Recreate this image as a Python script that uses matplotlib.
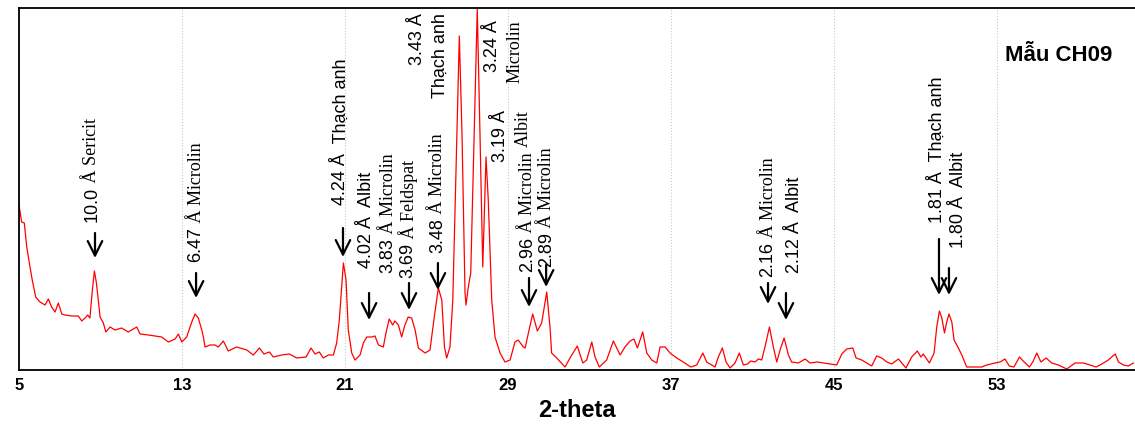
import matplotlib
matplotlib.use("Agg")
import matplotlib.pyplot as plt

# XRD pattern (2-theta, relative intensity)
two_theta = [5.0, 5.13, 5.26, 5.38, 5.54, 5.65, 5.82, 6.03, 6.28, 6.44, 6.6, 6.77, 6.93, 7.1, 7.26, 7.59,
             7.91, 8.08, 8.24, 8.37, 8.48, 8.6, 8.7, 8.8, 8.98, 9.14, 9.26, 9.47, 9.71, 10.04, 10.36, 10.78,
             10.94, 11.35, 11.67, 12.0, 12.33, 12.66, 12.82, 12.99, 13.23, 13.48, 13.64, 13.8, 13.97, 14.05,
             14.13, 14.37, 14.62, 14.78, 15.03, 15.27, 15.68, 16.18, 16.5, 16.8, 17.02, 17.29, 17.48, 17.89,
             18.27, 18.63, 19.09, 19.33, 19.53, 19.74, 19.93, 20.18, 20.43, 20.59, 20.72, 20.92, 21.05, 21.16,
             21.33, 21.49, 21.74, 21.9, 22.07, 22.31, 22.47, 22.64, 22.88, 23.01, 23.17, 23.34, 23.45, 23.62,
             23.78, 23.94, 24.1, 24.27, 24.44, 24.6, 24.93, 25.17, 25.38, 25.58, 25.75, 25.88, 25.99, 26.15,
             26.29, 26.45, 26.61, 26.74, 26.89, 26.94, 27.05, 27.17, 27.3, 27.49, 27.63, 27.76, 27.92, 28.03,
             28.2, 28.36, 28.61, 28.85, 29.1, 29.34, 29.5, 29.75, 29.84, 30.0, 30.21, 30.44, 30.65, 30.9,
             31.06, 31.14, 31.39, 31.8, 32.04, 32.4, 32.67, 32.86, 33.11, 33.27, 33.48, 33.84, 34.17, 34.5,
             34.74, 34.99, 35.18, 35.35, 35.61, 35.81, 36.05, 36.3, 36.46, 36.71, 36.95, 37.28, 37.6, 37.97,
             38.26, 38.56, 38.75, 39.0, 39.16, 39.32, 39.52, 39.7, 39.9, 40.14, 40.35, 40.55, 40.75, 40.91,
             41.12, 41.29, 41.45, 41.61, 41.83, 42.02, 42.19, 42.35, 42.55, 42.76, 42.92, 43.25, 43.58, 43.82,
             44.18, 44.48, 44.81, 45.13, 45.38, 45.62, 45.92, 46.08, 46.36, 46.6, 46.85, 47.09, 47.34, 47.59,
             47.83, 48.16, 48.53, 48.81, 49.09, 49.26, 49.38, 49.68, 49.91, 50.04, 50.17, 50.29, 50.42, 50.53,
             50.64, 50.78, 50.89, 51.1, 51.27, 51.51, 51.84, 52.25, 52.49, 52.9, 53.15, 53.39, 53.6, 53.83,
             54.1, 54.33, 54.59, 54.78, 54.95, 55.15, 55.41, 55.68, 56.01, 56.42, 56.83, 57.24, 57.56, 57.86,
             58.14, 58.46, 58.68, 58.8, 58.96, 59.2, 59.44, 59.69]
intensity = [165, 148, 147, 123, 103, 90, 73, 68, 65, 71, 63, 58, 67, 56, 55, 54,
             54, 49, 52, 55, 52, 80, 99, 87, 53, 47, 38, 43, 40, 42, 38, 43,
             36, 35, 34, 33, 28, 31, 36, 28, 33, 48, 56, 52, 40, 33,
             23, 25, 25, 23, 29, 19, 23, 20, 15, 22, 16, 18, 13, 15,
             16, 12, 13, 22, 16, 18, 12, 15, 15, 27, 50, 107, 90, 40,
             17, 10, 15, 27, 33, 33, 34, 25, 23, 37, 51, 45, 49, 45,
             33, 45, 53, 52, 40, 22, 17, 20, 53, 82, 70, 23, 12, 23,
             70, 203, 334, 237, 77, 65, 83, 97, 203, 361, 230, 103, 213, 170,
             70, 33, 17, 8, 10, 28, 30, 23, 22, 37, 56, 39, 47, 78,
             43, 17, 12, 3, 12, 24, 7, 10, 28, 13, 3, 10, 29, 15,
             23, 29, 31, 22, 38, 17, 10, 7, 23, 23, 17, 12, 8, 3,
             5, 17, 8, 5, 3, 13, 22, 8, 2, 7, 17, 5, 6, 9,
             8, 11, 10, 23, 43, 23, 8, 20, 32, 15, 8, 7, 11, 7,
             8, 7, 6, 5, 16, 21, 22, 12, 10, 7, 4, 14, 12, 8,
             6, 11, 2, 13, 19, 13, 16, 7, 17, 43, 59, 52, 37, 48,
             56, 48, 30, 22, 15, 3, 3, 3, 5, 7, 8, 11, 4, 3,
             13, 8, 3, 9, 17, 8, 12, 7, 5, 1, 7, 7, 5, 3,
             6, 10, 14, 16, 8, 5, 4, 7]

# labels that start just above an arrow (number part in sans, mineral part)
lbl_num = ["10.0", "6.47", "4.24 Å", "4.02 Å", "3.83", "3.69", "3.48", "2.96", "2.89", "2.16", "2.12 Å", "1.81 Å", "1.80 Å"]
lbl_rest = [" Å Sericit", " Å Microlin", "  Thạch anh", "  Albit", " Å Microlin", " Å Feldspat", " Å Microlin",
            " Å Microlin", " Å Microlin", " Å Microlin", "  Albit", "  Thạch anh", "  Albit"]
lbl_serif = [True, True, False, False, True, True, True, True, True, True, False, False, False]
lbl_x = [8.58, 13.69, 20.8, 22.03, 23.11, 24.09, 25.56, 29.98, 30.91, 41.76, 43.04, 50.06, 51.09]
lbl_y = [148, 108, 165, 102, 97, 92, 117, 98, 103, 93, 97, 147, 122]

# labels hanging from the top
top_text = ["3.43 Å", "Thạch anh", "3.24 Å", "Microlin", "3.19 Å", "Albit"]
top_serif = [False, False, False, True, False, True]
top_x = [24.58, 25.66, 28.26, 29.34, 28.61, 29.74]
top_y = [357, 357, 350, 350, 260, 260]

# arrows
arrow_x = [8.73, 13.69, 20.9, 22.18, 24.14, 25.56, 30.03, 30.87, 41.76, 42.64, 50.15, 50.64]
arrow_tail = [137, 97, 142, 77, 87, 107, 92, 105, 87, 77, 131, 102]
arrow_tip = [112, 72, 113, 50, 60, 80, 63, 83, 66, 50, 75, 75]

sans = ["Liberation Sans", "DejaVu Sans"]
serif = ["Liberation Serif", "DejaVu Serif"]

fig = plt.figure(figsize=(11.35, 4.25), dpi=100)
ax = fig.add_axes([19 / 1135, 55 / 425, 1116 / 1135, 362 / 425])

ax.plot(two_theta, intensity, color="red", lw=0.9)

ax.set_xlim(5, 59.77)
ax.set_ylim(0, 362)
ax.set_xticks([5, 13, 21, 29, 37, 45, 53])
ax.set_yticks([])
ax.tick_params(axis="x", length=0, pad=6)
for lab in ax.get_xticklabels():
    lab.set_family(sans)
    lab.set_fontweight("bold")
    lab.set_fontsize(12)
ax.grid(axis="x", color="#c8c8c8", linestyle=":", lw=0.8)
for s in ["left", "bottom", "top"]:
    ax.spines[s].set_linewidth(1.3)
ax.spines["right"].set_visible(False)

ax.set_xlabel("2-theta", family=sans, fontweight="bold", fontsize=17, labelpad=4)

ax.text(0.98, 0.87, "Mẫu CH09", transform=ax.transAxes, ha="right", va="center",
        family=sans, fontweight="bold", fontsize=16)

for i in range(len(arrow_x)):
    ax.annotate("", xy=(arrow_x[i], arrow_tip[i]), xytext=(arrow_x[i], arrow_tail[i]),
                arrowprops=dict(arrowstyle="->,head_length=0.8,head_width=0.4", lw=1.6, color="black",
                                shrinkA=0, shrinkB=0, mutation_scale=13))

for i in range(len(lbl_num)):
    t = ax.text(lbl_x[i], lbl_y[i], lbl_num[i], rotation=90, ha="center", va="bottom",
                family=sans, fontsize=13)
    ax.annotate(lbl_rest[i], xy=(0.5, 1), xycoords=t, rotation=90, ha="center", va="bottom",
                family=serif if lbl_serif[i] else sans, fontsize=13)

for i in range(len(top_text)):
    ax.text(top_x[i], top_y[i], top_text[i], rotation=90, ha="center", va="top",
            family=serif if top_serif[i] else sans, fontsize=13)

fig.savefig("out.png", dpi=100)
